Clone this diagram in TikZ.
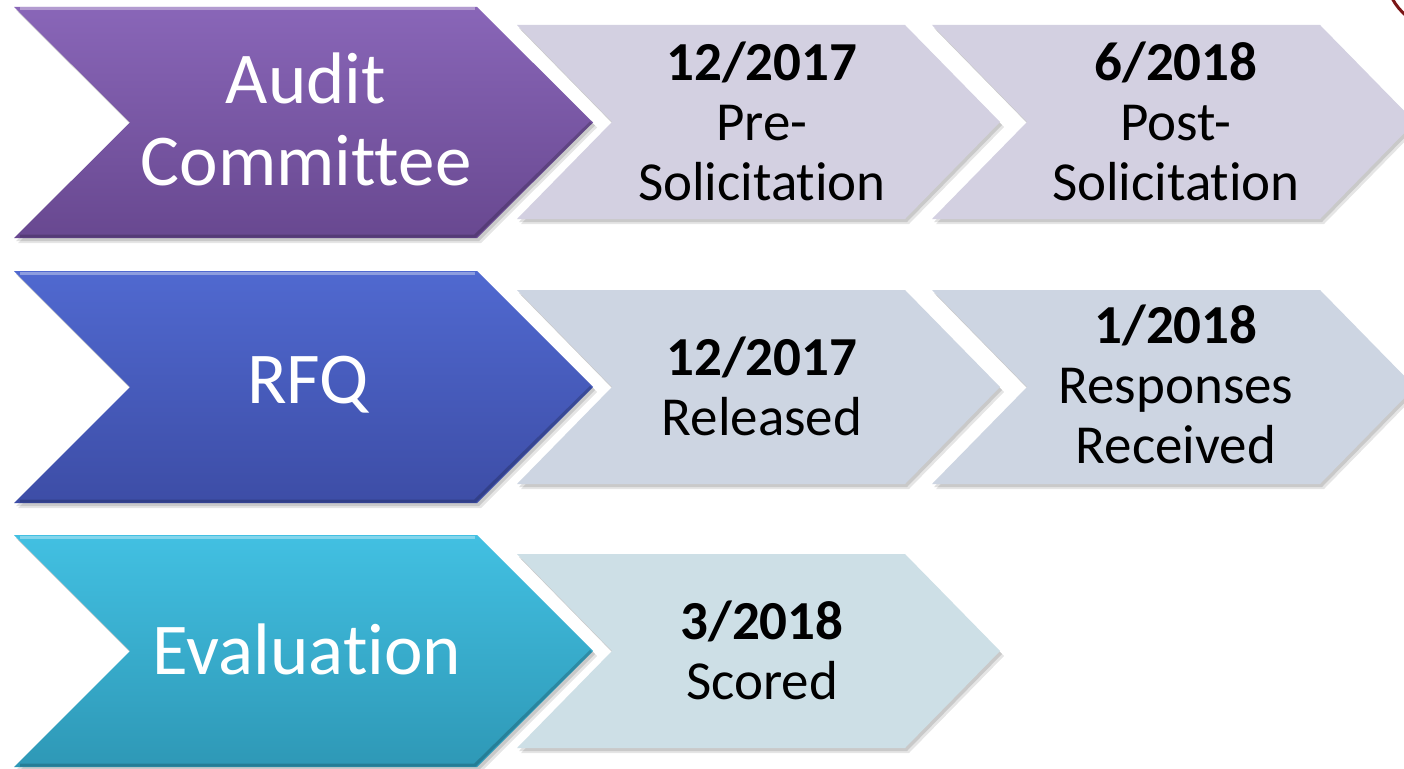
\documentclass[tikz,border=0pt]{standalone}
\usepackage{fontspec}
\setmainfont{Carlito}[Ligatures={NoCommon}]
\definecolor{purT}{HTML}{8966B8}
\definecolor{purB}{HTML}{684890}
\definecolor{bluT}{HTML}{5069D0}
\definecolor{bluB}{HTML}{3D4DA6}
\definecolor{cyaT}{HTML}{42C0E2}
\definecolor{cyaB}{HTML}{2E98B6}
\definecolor{lavA}{HTML}{D3D0E1}
\definecolor{lavB}{HTML}{CDD5E2}
\definecolor{lavC}{HTML}{CDDFE6}
\definecolor{logored}{HTML}{7A1515}
% #1 L, #2 R, #3 T, #4 B, #5 depth
\newcommand{\chevpath}[5]{(#1,#3) -- (#2,#3) -- ({#2+#5},{(#3+#4)/2}) -- (#2,#4) -- (#1,#4) -- ({#1+#5},{(#3+#4)/2}) -- cycle}
\tikzset{
  bigtext/.style={text=white, align=center, font=\fontsize{73}{82}\selectfont},
  smalltext/.style={text=black, align=center, font=\fontsize{55}{60}\selectfont},
}
\begin{document}
\begin{tikzpicture}[x=1pt,y=-1pt]
\useasboundingbox (0,0) rectangle (1404,768);
\clip (0,0) rectangle (1404,768);
\fill[white] (0,0) rectangle (1404,768);
% logo fragment top right
\draw[logored, line width=3pt] (1445,-30) circle (60);
% ---------- shadows ----------
\foreach \dx/\dy/\op in {4/5/0.10, 2/3/0.12}{
  \fill[black, opacity=\op, shift={(\dx pt,-\dy pt)}] \chevpath{14}{477}{7}{238}{116};
  \fill[black, opacity=\op, shift={(\dx pt,-\dy pt)}] \chevpath{517}{905}{25}{219}{95};
  \fill[black, opacity=\op, shift={(\dx pt,-\dy pt)}] \chevpath{932}{1320}{25}{219}{95};
  \fill[black, opacity=\op, shift={(\dx pt,-\dy pt)}] \chevpath{14}{477}{271}{503}{116};
  \fill[black, opacity=\op, shift={(\dx pt,-\dy pt)}] \chevpath{517}{905}{290}{484}{95};
  \fill[black, opacity=\op, shift={(\dx pt,-\dy pt)}] \chevpath{932}{1320}{290}{484}{95};
  \fill[black, opacity=\op, shift={(\dx pt,-\dy pt)}] \chevpath{14}{477}{535}{767}{116};
  \fill[black, opacity=\op, shift={(\dx pt,-\dy pt)}] \chevpath{517}{905}{554}{748}{95};
}
% ---------- big chevrons ----------
\shade[top color=purT, bottom color=purB] \chevpath{14}{477}{7}{238}{116};
\shade[top color=bluT, bottom color=bluB] \chevpath{14}{477}{271}{503}{116};
\shade[top color=cyaT, bottom color=cyaB] \chevpath{14}{477}{535}{767}{116};
% bevel highlights
\draw[white, opacity=0.35, line width=3pt] (20,9) -- (475,9);
\draw[white, opacity=0.35, line width=3pt] (20,273) -- (475,273);
\draw[white, opacity=0.35, line width=3pt] (20,537) -- (475,537);
\draw[black, opacity=0.18, line width=3pt] (20,236) -- (475,236) -- (591,122.5);
\draw[black, opacity=0.18, line width=3pt] (20,501) -- (475,501) -- (591,387);
\draw[black, opacity=0.18, line width=3pt] (20,765) -- (475,765) -- (591,651);
% ---------- small chevrons ----------
\fill[lavA] \chevpath{517}{905}{25}{219}{95};
\fill[lavA] \chevpath{932}{1320}{25}{219}{95};
\fill[lavB] \chevpath{517}{905}{290}{484}{95};
\fill[lavB] \chevpath{932}{1320}{290}{484}{95};
\fill[lavC] \chevpath{517}{905}{554}{748}{95};
% ---------- texts ----------
\node[bigtext] (audit) at (306,119) {Audit\\Committee};
\node[bigtext] (rfq) at (308,385) {RFQ};
\node[bigtext] (eval) at (307,649) {Evaluation};
\node[smalltext] (pre) at (762,121) {\textbf{12/2017}\\Pre-\\Solicitation};
\node[smalltext] (post) at (1176,121) {\textbf{6/2018}\\Post-\\Solicitation};
\node[smalltext] (rel) at (762,386) {\textbf{12/2017}\\Released};
\node[smalltext] (resp) at (1176,384) {\textbf{1/2018}\\Responses\\Received};
\node[smalltext] (score) at (762,650) {\textbf{3/2018}\\Scored};
\end{tikzpicture}
\end{document}
